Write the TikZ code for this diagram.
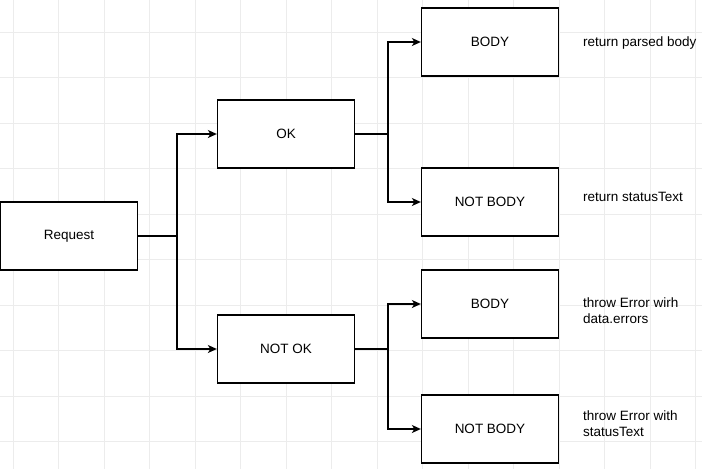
\documentclass[tikz,border=0pt]{standalone}
\usepackage{fontspec}
\setmainfont{Liberation Sans}
\usepackage{tikz}
\usetikzlibrary{arrows.meta,positioning}
\definecolor{grille}{RGB}{236,236,236}

\begin{document}
\begin{tikzpicture}[x=1pt,y=-1pt,
  font=\fontsize{13.5}{16}\selectfont,
  boite/.style={rectangle,draw=black,line width=1.3pt,fill=white,
                minimum width=137pt,minimum height=68pt,text centered},
  remarque/.style={anchor=west,align=left,inner sep=0pt},
  lien/.style={-{Stealth[length=9pt,width=8pt,inset=2.5pt]},line width=1.3pt}]

  \useasboundingbox (0,0) rectangle (702,469);
  % grille de fond
  \foreach \gx in {0,...,15}
    \draw[grille,line width=0.8pt] (13+45.5*\gx,0) -- (13+45.5*\gx,469);
  \foreach \gy in {0,...,9}
    \draw[grille,line width=0.8pt] (0,32+45.5*\gy) -- (702,32+45.5*\gy);

  \node[boite] (REQ) at (69,236) {Request};
  \node[boite] (OK) at (286,134) {OK};
  \node[boite] (NOK) at (286,349) {NOT OK};
  \node[boite] (OKB) at (490,42) {BODY};
  \node[boite] (OKNB) at (490,202) {NOT BODY};
  \node[boite] (NOKB) at (490,304) {BODY};
  \node[boite] (NOKNB) at (490,429) {NOT BODY};

  \node[remarque] (T1) at (583,43) {return parsed body};
  \node[remarque] (T2) at (583,197) {return statusText};
  \node[remarque] (T3) at (583,311) {throw Error wirh\\data.errors};
  \node[remarque] (T4) at (583,424) {throw Error with\\statusText};

  \coordinate (jREQ) at (177,236);
  \coordinate (jOK) at (388,134);
  \coordinate (jNOK) at (388,349);

  \draw[lien] (REQ.east) -- (jREQ) |- (OK.west);
  \draw[lien] (jREQ) |- (NOK.west);
  \draw[lien] (OK.east) -- (jOK) |- (OKB.west);
  \draw[lien] (jOK) |- (OKNB.west);
  \draw[lien] (NOK.east) -- (jNOK) |- (NOKB.west);
  \draw[lien] (jNOK) |- (NOKNB.west);
\end{tikzpicture}
\end{document}
